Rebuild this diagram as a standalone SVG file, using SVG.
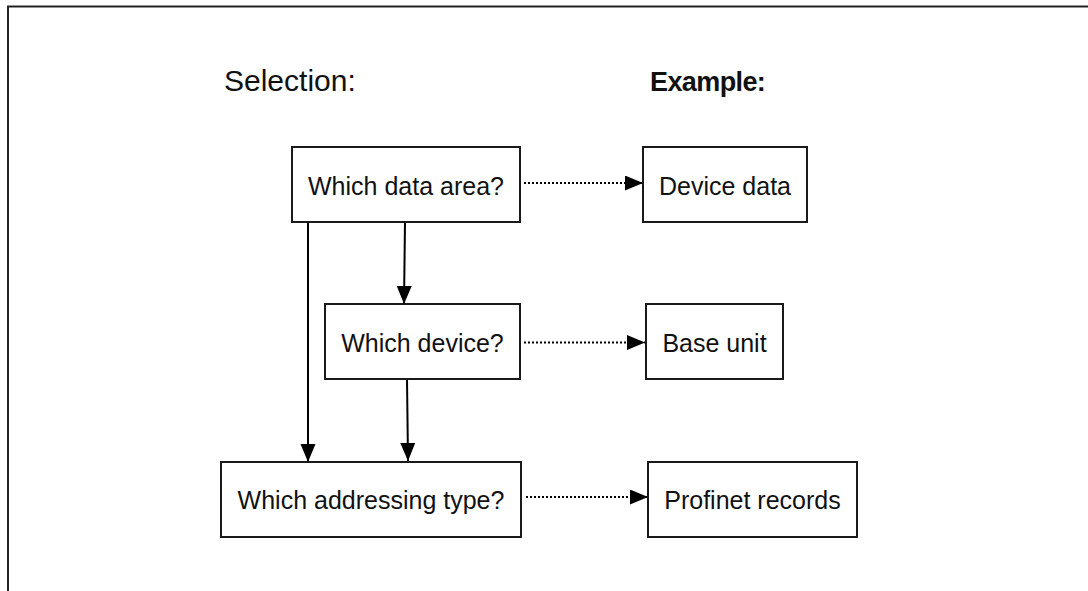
<svg xmlns="http://www.w3.org/2000/svg" width="1088" height="591" viewBox="0 0 1088 591">
<style>
.box{fill:#fff;stroke:#1a1a1a;stroke-width:2}
.t{font-family:"Liberation Sans",Arial,sans-serif;font-size:25px;fill:#111;text-anchor:middle}
.h{font-family:"Liberation Sans",Arial,sans-serif;fill:#111}
.solid{stroke:#000;stroke-width:2;fill:none}
.dot{stroke:#000;stroke-width:2;fill:none;stroke-dasharray:2 2}
</style>
<defs>
<marker id="ah" markerUnits="userSpaceOnUse" markerWidth="19" markerHeight="16" refX="18" refY="7.5" orient="auto">
<path d="M0,0 L18,7.5 L0,15 Z" fill="#000"/>
</marker>
</defs>
<path d="M8,591 V6.5 H1088" fill="none" stroke="#222" stroke-width="2"/>
<text class="h" x="224" y="91" font-size="30">Selection:</text>
<text class="h" x="650" y="91" font-size="27" font-weight="bold" letter-spacing="-0.6">Example:</text>
<g id="connectors">
<line class="dot" x1="524" y1="183" x2="643" y2="183" marker-end="url(#ah)"/>
<line class="solid" x1="405" y1="222" x2="404" y2="304" marker-end="url(#ah)"/>
<line class="solid" x1="308" y1="222" x2="308" y2="462" marker-end="url(#ah)"/>
<line class="solid" x1="407" y1="379" x2="408" y2="461" marker-end="url(#ah)"/>
<line class="dot" x1="524" y1="342.5" x2="645" y2="342.5" marker-end="url(#ah)"/>
<line class="dot" x1="526" y1="497" x2="648" y2="497" marker-end="url(#ah)"/>
</g>
<g id="n1"><rect class="box" x="292" y="147" width="228" height="75"/><text class="t" x="406" y="195">Which data area?</text></g>
<g id="n2"><rect class="box" x="643" y="147" width="164" height="75"/><text class="t" x="725" y="195">Device data</text></g>
<g id="n3"><rect class="box" x="325" y="304" width="195" height="75"/><text class="t" x="422.5" y="352">Which device?</text></g>
<g id="n4"><rect class="box" x="646" y="304" width="137" height="75"/><text class="t" x="714.5" y="352">Base unit</text></g>
<g id="n5"><rect class="box" x="221" y="462" width="300" height="75"/><text class="t" x="371" y="509">Which addressing type?</text></g>
<g id="n6"><rect class="box" x="648" y="462" width="209" height="75"/><text class="t" x="752.5" y="509">Profinet records</text></g>
</svg>
